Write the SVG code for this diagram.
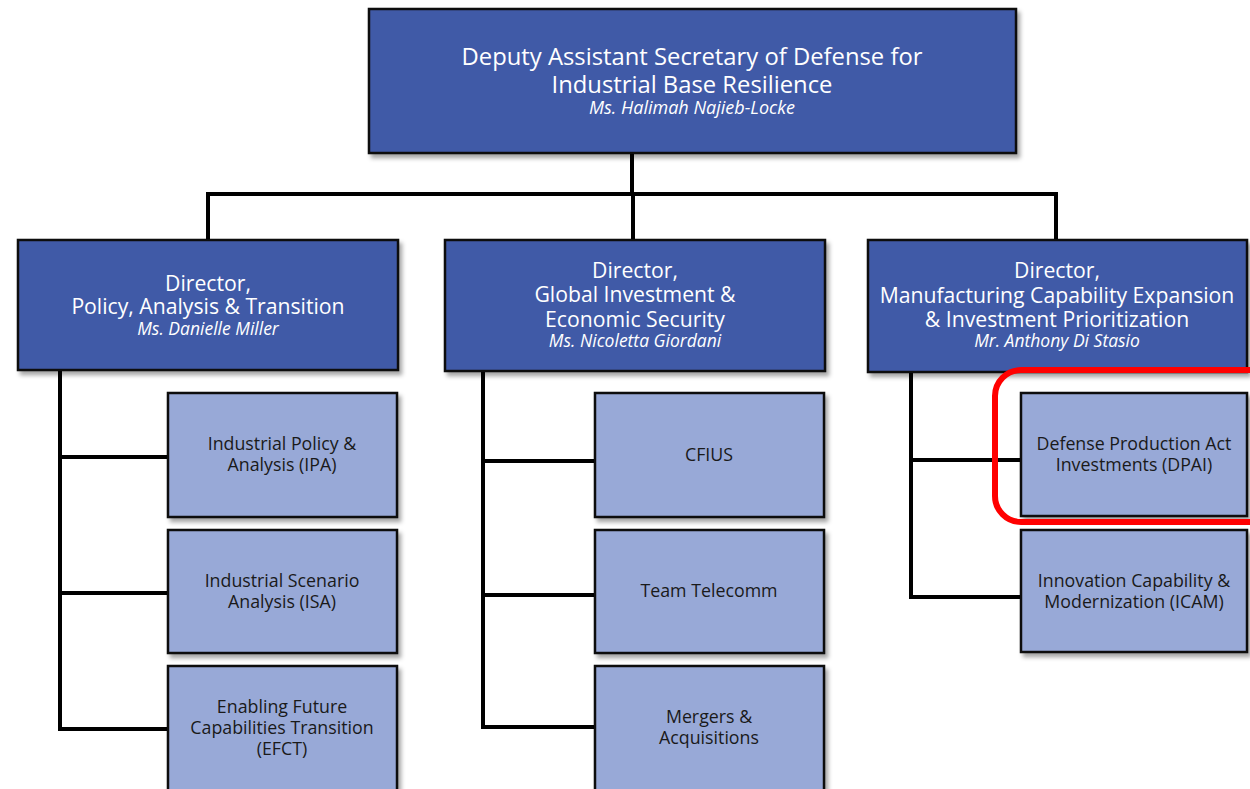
<svg xmlns="http://www.w3.org/2000/svg" width="1250" height="789" viewBox="0 0 1250 789">
<defs>
<filter id="sh" x="-5%" y="-5%" width="115%" height="120%">
<feDropShadow dx="3" dy="4" stdDeviation="2" flood-color="#000" flood-opacity="0.35"/>
</filter>
</defs>
<style>
.dk{fill:#405AA7;stroke:#111;stroke-width:2.5;filter:url(#sh)}
.lt{fill:#98A9D7;stroke:#111;stroke-width:2.5;filter:url(#sh)}
.c{stroke:#000;stroke-width:4;fill:none;stroke-linecap:square}
.w{fill:#fff;font-family:"Open Sans","Noto Sans",sans-serif;text-anchor:middle}
.b{fill:#1a1a1a;font-family:"Open Sans","Noto Sans",sans-serif;text-anchor:middle;font-size:17.8px}
.i{font-style:italic}
</style>
<g id="connectors">
<path class="c" d="M632 153V194M208 194H1056M208 194V240M633 194V240M1056 194V240"/>
<path class="c" d="M60 370V729M60 457H168M60 593H168M60 729H168"/>
<path class="c" d="M483 371V727M483 461H595M483 595H595M483 727H595"/>
<path class="c" d="M911 372V597M911 460H1021M911 597H1021"/>
</g>
<g id="dasd">
<rect class="dk" x="369" y="9" width="647" height="144"/>
<text class="w" x="692" y="65" font-size="23.8">Deputy Assistant Secretary of Defense for</text>
<text class="w" x="692" y="93" font-size="23.8">Industrial Base Resilience</text>
<text class="w i" x="692" y="114" font-size="18">Ms. Halimah Najieb-Locke</text>
</g>
<g id="pat">
<rect class="dk" x="18" y="240" width="380" height="130"/>
<text class="w" x="208" y="291" font-size="21.2">Director,</text>
<text class="w" x="208" y="314" font-size="21.2">Policy, Analysis &amp; Transition</text>
<text class="w i" x="208" y="335" font-size="17.5">Ms. Danielle Miller</text>
</g>
<g id="gies">
<rect class="dk" x="445" y="240" width="380" height="131"/>
<text class="w" x="635" y="278" font-size="21.2">Director,</text>
<text class="w" x="635" y="302" font-size="21.2">Global Investment &amp;</text>
<text class="w" x="635" y="327" font-size="21.2">Economic Security</text>
<text class="w i" x="635" y="347" font-size="17.5">Ms. Nicoletta Giordani</text>
</g>
<g id="mceip">
<rect class="dk" x="868" y="240" width="379" height="132"/>
<text class="w" x="1057" y="278" font-size="21.2">Director,</text>
<text class="w" x="1057" y="303" font-size="21.2">Manufacturing Capability Expansion</text>
<text class="w" x="1057" y="327" font-size="21.2">&amp; Investment Prioritization</text>
<text class="w i" x="1057" y="347" font-size="17.5">Mr. Anthony Di Stasio</text>
</g>
<g id="ipa">
<rect class="lt" x="168" y="393" width="229" height="124"/>
<text class="b" x="282" y="450">Industrial Policy &amp;</text>
<text class="b" x="282" y="471">Analysis (IPA)</text>
</g>
<g id="isa">
<rect class="lt" x="168" y="530" width="229" height="123"/>
<text class="b" x="282" y="587">Industrial Scenario</text>
<text class="b" x="282" y="608">Analysis (ISA)</text>
</g>
<g id="efct">
<rect class="lt" x="168" y="666" width="229" height="130"/>
<text class="b" x="282" y="713">Enabling Future</text>
<text class="b" x="282" y="734">Capabilities Transition</text>
<text class="b" x="282" y="755">(EFCT)</text>
</g>
<g id="cfius">
<rect class="lt" x="595" y="393" width="229" height="124"/>
<text class="b" x="709" y="461">CFIUS</text>
</g>
<g id="telecomm">
<rect class="lt" x="595" y="530" width="229" height="123"/>
<text class="b" x="709" y="597">Team Telecomm</text>
</g>
<g id="ma">
<rect class="lt" x="595" y="666" width="229" height="130"/>
<text class="b" x="709" y="723">Mergers &amp;</text>
<text class="b" x="709" y="744">Acquisitions</text>
</g>
<g id="dpai">
<rect class="lt" x="1021" y="393" width="226" height="123"/>
<text class="b" x="1134" y="450">Defense Production Act</text>
<text class="b" x="1134" y="471">Investments (DPAI)</text>
</g>
<g id="icam">
<rect class="lt" x="1021" y="530" width="226" height="122"/>
<text class="b" x="1134" y="587">Innovation Capability &amp;</text>
<text class="b" x="1134" y="608">Modernization (ICAM)</text>
</g>
<g id="highlight">
<rect x="995" y="370" width="290" height="152" rx="26" fill="none" stroke="#F00" stroke-width="6"/>
</g>
</svg>
